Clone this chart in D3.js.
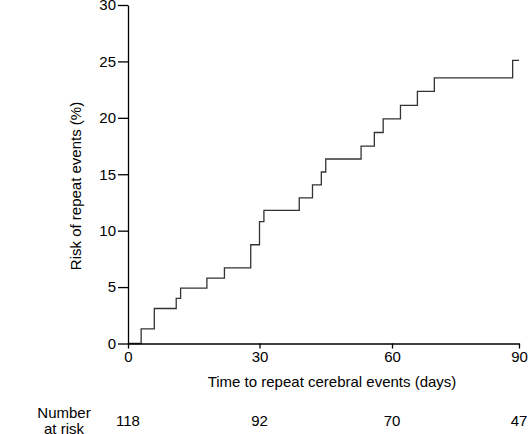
<!DOCTYPE html>
<html>
<head>
<meta charset="utf-8">
<script src="https://cdn.jsdelivr.net/npm/d3@7"></script>
<style>
  body { margin: 0; background: #fff; }
  svg { display: block; font-family: "Liberation Sans", Arial, sans-serif; }
</style>
</head>
<body>
<svg id="chart" width="529" height="434"></svg>
<script>
// Event times (days) and cumulative risk (%) after each event
const eventDays = [3, 6, 11, 12, 18, 22, 28, 30, 31, 39, 42, 44, 45, 53, 56, 58, 62, 66, 70, 88.5];
const riskPct   = [1.3, 3.1, 4.0, 4.9, 5.8, 6.7, 8.75, 10.8, 11.8, 12.9, 14.05, 15.2, 16.35, 17.5, 18.7, 19.9, 21.1, 22.35, 23.55, 25.1];
const endDay = 90;
const xTicks = [0, 30, 60, 90];
const yTicks = [0, 5, 10, 15, 20, 25, 30];
const atRiskDays = [0, 30, 60, 90];
const atRisk = [118, 92, 70, 47];

const svg = d3.select("#chart");

const x = d3.scaleLinear().domain([0, 30, 60, 90]).range([128, 259.5, 392, 519]);
const y = d3.scaleLinear().domain([0, 30]).range([343.5, 5]);

// step data
const pts = [[0, 0]];
eventDays.forEach((d, i) => pts.push([d, riskPct[i]]));
pts.push([endDay, riskPct[riskPct.length - 1]]);

// curve
svg.append("path")
  .datum(pts)
  .attr("fill", "none")
  .attr("stroke", "#333")
  .attr("stroke-width", 1.3)
  .attr("d", d3.line().x(d => x(d[0])).y(d => y(d[1])).curve(d3.curveStepAfter));

// y axis
const yAxis = svg.append("g")
  .attr("transform", `translate(${x(0)},0)`)
  .call(d3.axisLeft(y).tickValues(yTicks).tickSize(10).tickPadding(2).tickSizeOuter(0));
// x axis
const xAxis = svg.append("g")
  .attr("transform", `translate(0,${y(0)})`)
  .call(d3.axisBottom(x).tickValues(xTicks).tickSize(5).tickPadding(3).tickSizeOuter(0));

[yAxis, xAxis].forEach(g => {
  g.select(".domain").attr("stroke", "#000").attr("stroke-width", 1.3);
  g.selectAll(".tick line").attr("stroke", "#000").attr("stroke-width", 1.3);
  g.selectAll(".tick text").attr("fill", "#000")
    .style("font-size", "15px").style("font-family", '"Liberation Sans", Arial, sans-serif');
});

// axis titles
svg.append("text")
  .attr("transform", "translate(81,186) rotate(-90)")
  .attr("text-anchor", "middle")
  .style("font-size", "15px")
  .attr("fill", "#000")
  .text("Risk of repeat events (%)");

svg.append("text")
  .attr("x", 332).attr("y", 387)
  .attr("text-anchor", "middle")
  .style("font-size", "15px")
  .attr("fill", "#000")
  .text("Time to repeat cerebral events (days)");

// number at risk
const lbl = svg.append("text")
  .attr("text-anchor", "middle")
  .style("font-size", "15px")
  .attr("fill", "#000");
lbl.append("tspan").attr("x", 64).attr("y", 418).text("Number");
lbl.append("tspan").attr("x", 64).attr("y", 434).text("at risk");

svg.selectAll("text.risk")
  .data(atRisk)
  .enter().append("text")
  .attr("class", "risk")
  .attr("x", (d, i) => x(atRiskDays[i]))
  .attr("y", 426)
  .attr("text-anchor", "middle")
  .style("font-size", "15px")
  .attr("fill", "#000")
  .text(d => d);
</script>
</body>
</html>
